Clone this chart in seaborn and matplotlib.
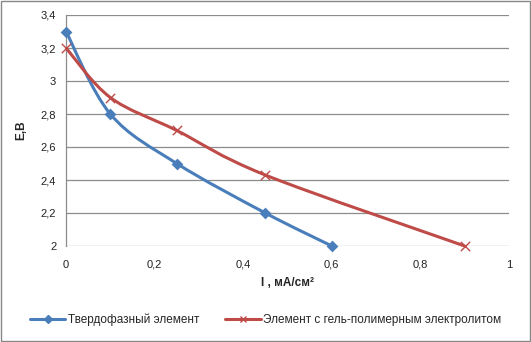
import numpy as np
import pandas as pd
import matplotlib
matplotlib.use("Agg")
import matplotlib.pyplot as plt
from matplotlib.path import Path
from matplotlib.patches import PathPatch
from matplotlib.lines import Line2D
import seaborn as sns

series_names = ["Твердофазный элемент", "Элемент с гель-полимерным электролитом"]
x_solid = [0.0, 0.1, 0.25, 0.45, 0.6]
y_solid = [3.3, 2.8, 2.5, 2.2, 2.0]
x_gel = [0.0, 0.1, 0.25, 0.45, 0.9]
y_gel = [3.2, 2.9, 2.7, 2.43, 2.0]
x_ticks = [0, 0.2, 0.4, 0.6, 0.8, 1]
y_ticks = [2, 2.2, 2.4, 2.6, 2.8, 3, 3.2, 3.4]
colors = ["#4A7EBB", "#BE4B48"]

sns.set_theme(style="white")
plt.rcParams['font.family'] = ['Liberation Sans', 'DejaVu Sans']

fig = plt.figure(figsize=(5.31, 3.42), dpi=100)
fig.patches.append(plt.Rectangle((0.001, 0.002), 0.997, 0.995, transform=fig.transFigure,
                                 fill=False, edgecolor="#878787", linewidth=1.0))
ax = fig.add_axes([66/531, 1-246/342, (509-66)/531, (246-15)/342])
ax.set_xlim(0, 1)
ax.set_ylim(2, 3.4)

def smooth_path(xs, ys, ax):
    # Catmull-Rom -> Bezier in pixel-proportional space
    xr = ax.get_xlim(); yr = ax.get_ylim()
    sx = 443.0 / (xr[1]-xr[0]); sy = 231.0 / (yr[1]-yr[0])
    P = np.column_stack([np.array(xs)*sx, np.array(ys)*sy])
    n = len(P)
    verts = [P[0]]; codes = [Path.MOVETO]
    t = 1.0 / 3
    for i in range(n-1):
        p0 = P[i-1] if i > 0 else P[i]
        p1 = P[i]; p2 = P[i+1]
        p3 = P[i+2] if i+2 < n else P[i+1]
        c1 = p1 + (p2 - p0) * t / 2
        c2 = p2 - (p3 - p1) * t / 2
        verts += [c1, c2, p2]; codes += [Path.CURVE4]*3
    V = np.array(verts)
    V[:, 0] /= sx; V[:, 1] /= sy
    return Path(V, codes)

for xs, ys, c in [(x_solid, y_solid, colors[0]), (x_gel, y_gel, colors[1])]:
    ax.add_patch(PathPatch(smooth_path(xs, ys, ax), facecolor="none", edgecolor=c,
                           linewidth=2.2, clip_on=False, zorder=3))

sns.scatterplot(x=x_solid, y=y_solid, color=colors[0], marker="D", s=36, linewidth=0,
                ax=ax, zorder=4, clip_on=False)
sns.scatterplot(x=x_gel, y=y_gel, color=colors[1], marker="x", s=45, linewidth=1.0,
                ax=ax, zorder=4, clip_on=False)

ax.set_yticks(y_ticks)
ax.set_xticks(x_ticks)
fmt = lambda v: (("%g" % v).replace(".", ","))
ax.set_yticklabels([fmt(v) for v in y_ticks])
ax.set_xticklabels([fmt(v) for v in x_ticks])
ax.grid(axis="y", color="#8C8C8C", linewidth=0.9)
ax.grid(axis="x", visible=False)
for sp in ["top", "right", "bottom"]:
    ax.spines[sp].set_visible(False)
ax.spines["left"].set_color("#8C8C8C")
ax.spines["left"].set_linewidth(0.9)
ax.tick_params(axis="both", length=0, labelsize=8, colors="#222222")
ax.tick_params(axis="y", pad=7)
ax.tick_params(axis="x", pad=10)
ax.set_axisbelow(True)

ax.set_xlabel("I , мА/см²", fontsize=8.5, fontweight="bold", labelpad=5)
ax.set_ylabel("E,B", fontsize=8.5, fontweight="bold", labelpad=10)

handles = [Line2D([], [], color=colors[0], marker="D", markersize=4.5, linewidth=2.2),
           Line2D([], [], color=colors[1], marker="x", markersize=5, linewidth=2.2, markeredgewidth=1)]
fig.legend(handles, series_names, loc="center", bbox_to_anchor=(0.5, 1-320/342), ncol=2,
           frameon=False, fontsize=8.5, handlelength=3.0, handletextpad=0.2, columnspacing=2.2)

fig.savefig("out.png", dpi=100)
